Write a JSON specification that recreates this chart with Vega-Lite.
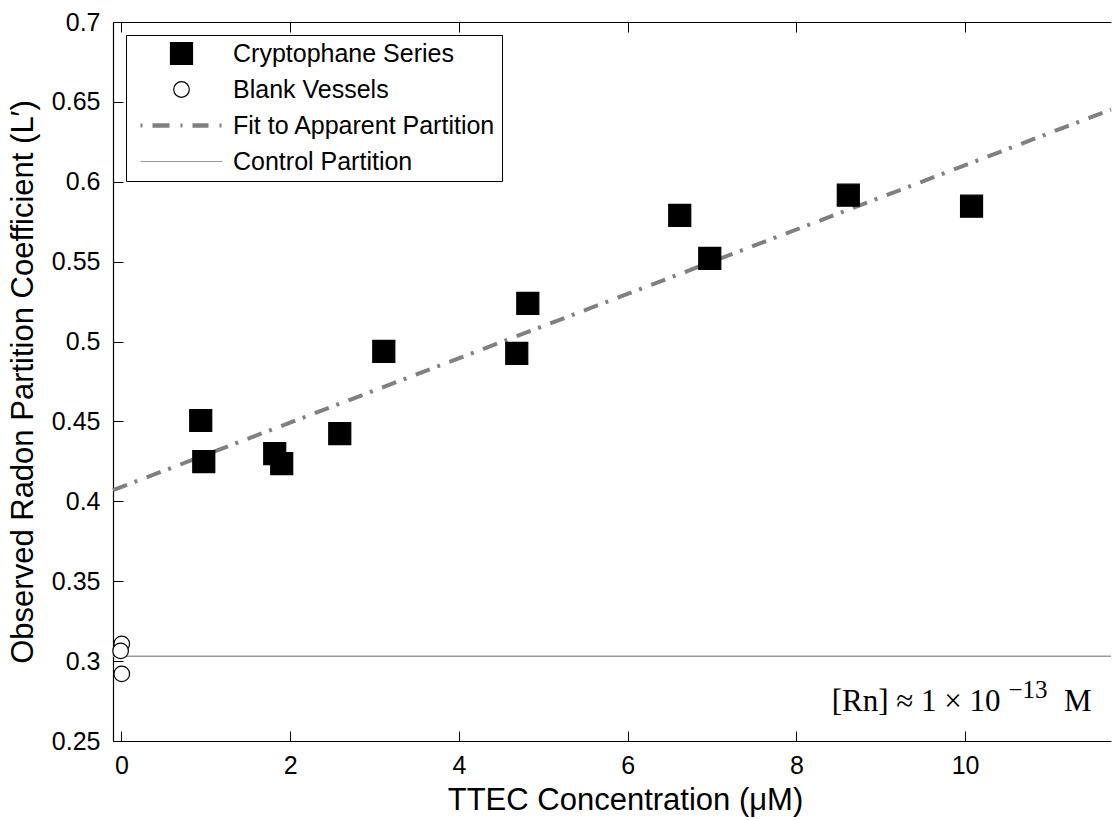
{
  "$schema": "https://vega.github.io/schema/vega-lite/v6.json",
  "width": 998,
  "height": 719,
  "autosize": "none",
  "padding": {"left": 113, "top": 22, "right": 2, "bottom": 79},
  "background": "white",
  "config": {
    "view": {"stroke": null},
    "font": "Liberation Sans",
    "axis": {
      "grid": false,
      "domainColor": "black",
      "domainWidth": 1.2,
      "tickColor": "black",
      "tickSize": -10,
      "tickWidth": 1,
      "labelFont": "Liberation Sans",
      "labelFontSize": 25,
      "labelColor": "black",
      "titleFont": "Liberation Sans",
      "titleFontSize": 31,
      "titleFontWeight": "normal",
      "titleColor": "black",
      "titleLimit": 900
    },
    "legend": {
      "orient": "top-left",
      "direction": "vertical",
      "offset": 13,
      "padding": 6,
      "strokeColor": "black",
      "fillColor": "white",
      "labelFont": "Liberation Sans",
      "labelFontSize": 25,
      "labelColor": "black",
      "labelLimit": 400,
      "symbolSize": 400,
      "symbolOffset": 37,
      "symbolStrokeWidth": 1.2,
      "labelOffset": 39,
      "rowPadding": 10
    }
  },
  "datasets": {
    "points": [
      {"series": "Cryptophane Series", "x": 0.94, "y": 0.4506},
      {"series": "Cryptophane Series", "x": 0.976, "y": 0.4249},
      {"series": "Cryptophane Series", "x": 1.817, "y": 0.4299},
      {"series": "Cryptophane Series", "x": 1.9, "y": 0.4236},
      {"series": "Cryptophane Series", "x": 2.588, "y": 0.4424},
      {"series": "Cryptophane Series", "x": 3.11, "y": 0.4938},
      {"series": "Cryptophane Series", "x": 4.686, "y": 0.4926},
      {"series": "Cryptophane Series", "x": 4.817, "y": 0.5239},
      {"series": "Cryptophane Series", "x": 6.618, "y": 0.579},
      {"series": "Cryptophane Series", "x": 6.974, "y": 0.552},
      {"series": "Cryptophane Series", "x": 8.616, "y": 0.5916},
      {"series": "Cryptophane Series", "x": 10.077, "y": 0.5847},
      {"series": "Blank Vessels", "x": 0.004, "y": 0.3108},
      {"series": "Blank Vessels", "x": -0.01, "y": 0.3064},
      {"series": "Blank Vessels", "x": 0.004, "y": 0.292}
    ],
    "fit": [
      {"series": "Fit to Apparent Partition", "x": -0.1, "y": 0.407},
      {"series": "Fit to Apparent Partition", "x": 11.73, "y": 0.6452}
    ],
    "control": [{"series": "Control Partition", "y": 0.303}],
    "note": [{"main": "[Rn] ≈ 1 × 10", "exp": "−13", "unit": "M"}]
  },
  "layer": [
    {
      "data": {"name": "fit"},
      "mark": {"type": "line", "stroke": "#808080", "strokeWidth": 4, "strokeDash": [15, 8, 3, 10]},
      "encoding": {
        "x": {
          "field": "x", "type": "quantitative",
          "scale": {"domain": [-0.1, 11.73], "nice": false, "zero": false},
          "axis": {"orient": "bottom", "values": [0, 2, 4, 6, 8, 10], "labelPadding": 22, "title": "TTEC Concentration (μM)", "titlePadding": 7, "titleX": 512}
        },
        "y": {
          "field": "y", "type": "quantitative",
          "scale": {"domain": [0.25, 0.7], "nice": false, "zero": false},
          "title": "Observed Radon Partition Coefficient (L′)",
          "axis": {"values": [0.25, 0.3, 0.35, 0.4, 0.45, 0.5, 0.55, 0.6, 0.65, 0.7], "format": "~g", "labelPadding": 23, "titlePadding": 12}
        }
      }
    },
    {
      "data": {"name": "control"},
      "mark": {"type": "rule", "stroke": "#9a9a9a", "strokeWidth": 1.5},
      "encoding": {
        "y": {"field": "y", "type": "quantitative", "title": "Observed Radon Partition Coefficient (L′)"}
      }
    },
    {
      "data": {"name": "points"},
      "mark": {"type": "point", "size": 400, "opacity": 1, "strokeWidth": 1.2},
      "encoding": {
        "x": {
          "field": "x", "type": "quantitative",
          "axis": {"orient": "top", "values": [0, 2, 4, 6, 8, 10], "labels": false, "title": null}
        },
        "y": {"field": "y", "type": "quantitative", "title": "Observed Radon Partition Coefficient (L′)"},
        "shape": {
          "field": "series", "type": "nominal", "title": null,
          "scale": {
            "domain": ["Cryptophane Series", "Blank Vessels", "Fit to Apparent Partition", "Control Partition"],
            "range": [
              "M-1.1,-1.1H1.1V1.1H-1.1Z",
              "M-0.78,0A0.78,0.78,0,1,0,0.78,0A0.78,0.78,0,1,0,-0.78,0Z",
              "M-4.1,-0.2H-3.9V0.2H-4.1Z M-2.9,-0.22H-1.2V0.22H-2.9Z M-0.1,-0.2H0.1V0.2H-0.1Z M1.1,-0.22H2.7V0.22H1.1Z M3.8,-0.2H4.0V0.2H3.8Z",
              "M-4.1,0H4.1"
            ]
          }
        },
        "fill": {
          "field": "series", "type": "nominal", "title": null,
          "scale": {
            "domain": ["Cryptophane Series", "Blank Vessels", "Fit to Apparent Partition", "Control Partition"],
            "range": ["black", "white", "#7f7f7f", "transparent"]
          }
        },
        "stroke": {
          "field": "series", "type": "nominal", "title": null,
          "scale": {
            "domain": ["Cryptophane Series", "Blank Vessels", "Fit to Apparent Partition", "Control Partition"],
            "range": ["black", "black", "transparent", "#9a9a9a"]
          }
        }
      }
    },
    {
      "data": {"name": "note"},
      "mark": {"type": "text", "align": "right", "baseline": "alphabetic", "font": "Liberation Serif", "fontSize": 31, "color": "black"},
      "encoding": {
        "x": {"datum": 11.5, "type": "quantitative", "axis": null},
        "y": {"datum": 0.2688, "type": "quantitative", "title": "Observed Radon Partition Coefficient (L′)"},
        "text": {"field": "unit", "type": "nominal"}
      }
    },
    {
      "data": {"name": "note"},
      "mark": {"type": "text", "align": "right", "baseline": "alphabetic", "font": "Liberation Serif", "fontSize": 25, "color": "black", "dx": -44, "dy": -13},
      "encoding": {
        "x": {"datum": 11.5, "type": "quantitative", "axis": null},
        "y": {"datum": 0.2688, "type": "quantitative", "title": "Observed Radon Partition Coefficient (L′)"},
        "text": {"field": "exp", "type": "nominal"}
      }
    },
    {
      "data": {"name": "note"},
      "mark": {"type": "text", "align": "right", "baseline": "alphabetic", "font": "Liberation Serif", "fontSize": 31, "color": "black", "dx": -91},
      "encoding": {
        "x": {"datum": 11.5, "type": "quantitative", "axis": null},
        "y": {"datum": 0.2688, "type": "quantitative", "title": "Observed Radon Partition Coefficient (L′)"},
        "text": {"field": "main", "type": "nominal"}
      }
    }
  ],
  "resolve": {"axis": {"x": "independent"}}
}
